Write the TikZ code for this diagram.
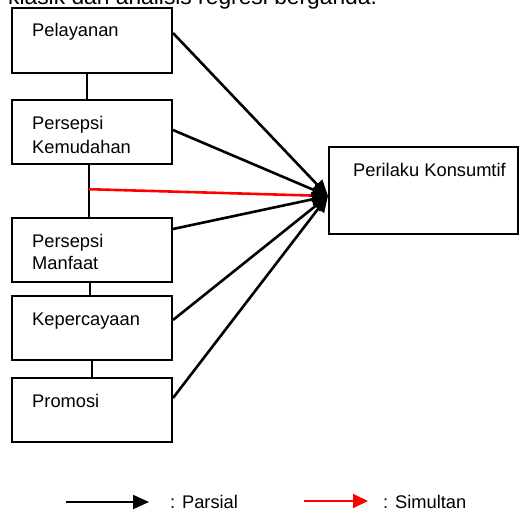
\documentclass[tikz,border=0pt]{standalone}
\usepackage{fontspec}
\setmainfont{Liberation Sans}
\usetikzlibrary{arrows.meta,calc}

\begin{document}
\begin{tikzpicture}[
    x=1pt, y=-1pt,
    var/.style={rectangle, draw, line width=2pt, minimum width=160pt, minimum height=64pt, inner sep=0pt},
    lbl/.style={anchor=base west, inner sep=0pt, font=\fontsize{18.3}{22}\selectfont},
    link/.style={draw, line width=1.6pt},
    parsial/.style={draw, line width=2.6pt, -{Triangle[length=16pt,width=14pt]}},
    simul/.style={draw=red, line width=2.6pt, -{Triangle[length=15pt,width=14pt]}}
]
    \useasboundingbox (0,0) rectangle (519,511);

    % Cut-off line of text above
    \begin{scope}
        \clip (0,0) rectangle (519,511);
        \node[lbl, font=\fontsize{22.8}{26}\selectfont] (top) at (8,5) {klasik dan analisis regresi berganda.};
    \end{scope}

    % Independent variables
    \node[var] (pel) at (92,40.5) {};
    \node[var] (kem) at (92,132) {};
    \node[var] (man) at (92,249.5) {};
    \node[var] (kep) at (92,327.5) {};
    \node[var] (pro) at (92,409.5) {};

    % Dependent variable
    \node[var, minimum width=189pt, minimum height=87pt] (kon) at (423.5,190.5) {};

    % Labels
    \node[lbl] (pelT) at (32,37) {Pelayanan};
    \node[lbl] (kemT1) at (32,129) {Persepsi};
    \node[lbl] (kemT2) at (32,153) {Kemudahan};
    \node[lbl] (manT1) at (32,247) {Persepsi};
    \node[lbl] (manT2) at (32,269) {Manfaat};
    \node[lbl] (kepT) at (32,325) {Kepercayaan};
    \node[lbl] (proT) at (32,407) {Promosi};
    \node[lbl] (konT) at (353,176) {Perilaku Konsumtif};

    % Links between the boxes
    \draw[link] ([xshift=-5pt]pel.south) -- ([xshift=-5pt]kem.north);
    \draw[link] ([xshift=-3pt]kem.south) -- ([xshift=-3pt]man.north);
    \draw[link] ([xshift=-2pt]man.south) -- ([xshift=-2pt]kep.north);
    \draw[link] (kep.south) -- (pro.north);

    % Arrows
    \coordinate (hub) at ([yshift=-5.5pt]kon.west);
    \coordinate (rs) at ($([xshift=-3pt]kem.south)!0.47!([xshift=-3pt]man.north)$);
    \draw[simul] (rs) -- (hub);
    \draw[parsial] ([yshift=7.5pt]pel.east) -- (hub);
    \draw[parsial] ([yshift=2pt]kem.east) -- (hub);
    \draw[parsial] ([yshift=20.5pt]man.east) -- (hub);
    \draw[parsial] ([yshift=7.5pt]kep.east) -- (hub);
    \draw[parsial] ([yshift=11.5pt]pro.east) -- (hub);

    % Legend
    \coordinate (pa) at (66,502);
    \coordinate (pb) at (149,502);
    \coordinate (sa) at (304,501);
    \coordinate (sb) at (368,501);
    \draw[parsial, line width=2pt] (pa) -- (pb);
    \draw[simul, line width=2pt] (sa) -- (sb);
    \node[lbl] (parT) at (170,508) {: Parsial};
    \node[lbl] (simT) at (383,508) {: Simultan};
\end{tikzpicture}
\end{document}
